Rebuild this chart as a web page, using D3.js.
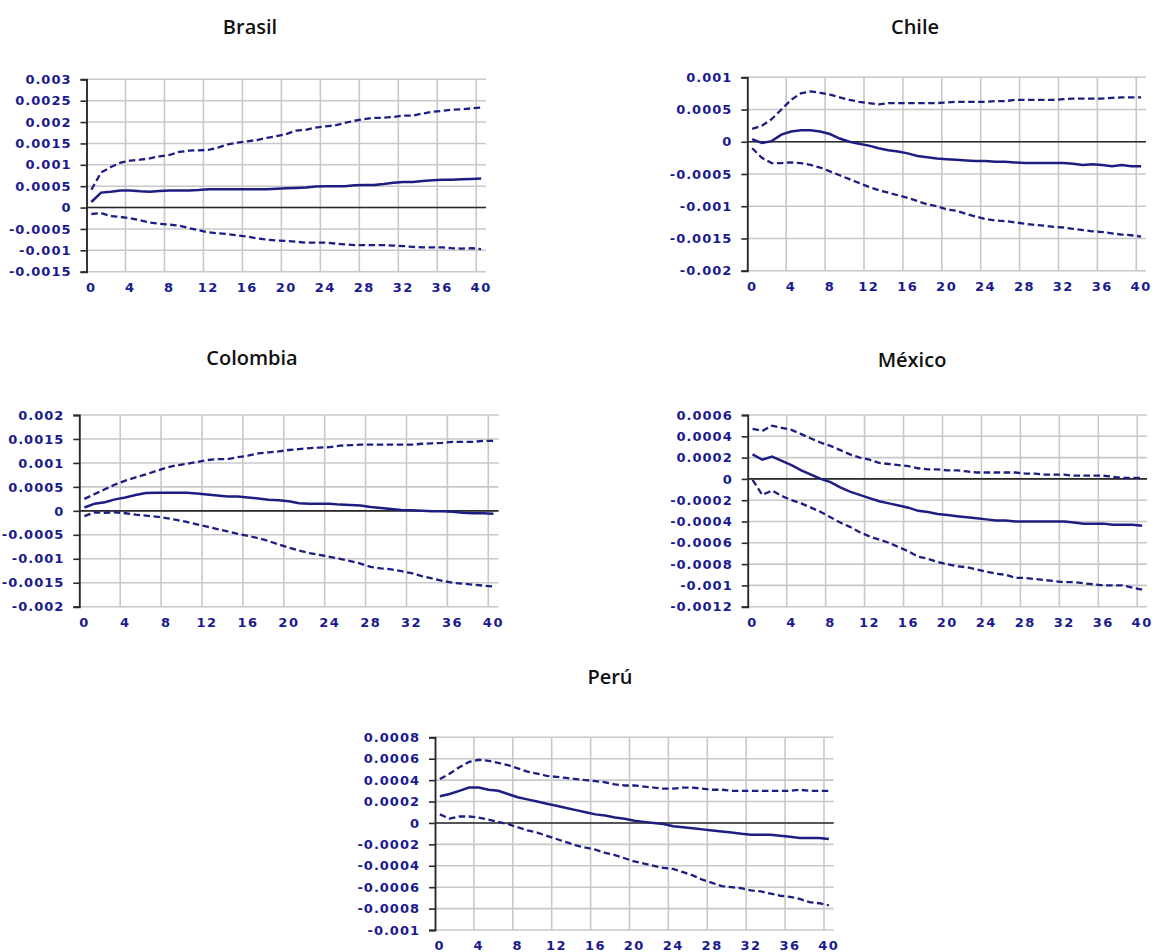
<!DOCTYPE html>
<html>
<head>
<meta charset="utf-8">
<script src="https://cdn.jsdelivr.net/npm/d3@7"></script>
<style>
  body { margin: 0; background: #fff; }
  svg { display: block; }
</style>
</head>
<body>
<div id="chart"></div>
<script>
var periods = d3.range(0, 41)
var xTickLabels = ["0","4","8","12","16","20","24","28","32","36","40"]

// Brasil
var brasilMid = [0.00013,0.00035,0.00037,0.0004,0.0004,0.00038,0.00037,0.00039,0.0004,0.0004,0.0004,0.00041,0.00043,0.00043,0.00043,0.00043,0.00043,0.00043,0.00043,0.00044,0.00045,0.00046,0.00047,0.00049,0.0005,0.0005,0.0005,0.00052,0.00053,0.00053,0.00055,0.00058,0.0006,0.0006,0.00062,0.00064,0.00065,0.00065,0.00066,0.00067,0.00068]
var brasilUp = [0.00042,0.00082,0.00095,0.00105,0.0011,0.00112,0.00115,0.0012,0.00123,0.0013,0.00133,0.00134,0.00135,0.0014,0.00148,0.00152,0.00155,0.00158,0.00163,0.00167,0.00172,0.0018,0.00182,0.00187,0.0019,0.00192,0.00198,0.00203,0.00207,0.0021,0.0021,0.00212,0.00215,0.00215,0.0022,0.00224,0.00226,0.00229,0.0023,0.00232,0.00234]
var brasilLow = [-0.00015,-0.00013,-0.0002,-0.00022,-0.00025,-0.0003,-0.00035,-0.00038,-0.0004,-0.00042,-0.00048,-0.00053,-0.00058,-0.0006,-0.00062,-0.00065,-0.00068,-0.00072,-0.00075,-0.00077,-0.00078,-0.0008,-0.00082,-0.00082,-0.00082,-0.00084,-0.00086,-0.00088,-0.00088,-0.00088,-0.00088,-0.00089,-0.0009,-0.00092,-0.00093,-0.00093,-0.00093,-0.00095,-0.00096,-0.00095,-0.00097]

// Chile
var chileMid = [0.00004,-0.00002,0.00001,0.00011,0.00016,0.00018,0.00018,0.00016,0.00012,0.00005,0.0,-0.00003,-0.00006,-0.0001,-0.00013,-0.00015,-0.00018,-0.00022,-0.00024,-0.00026,-0.00027,-0.00028,-0.00029,-0.0003,-0.0003,-0.00031,-0.00031,-0.00032,-0.00033,-0.00033,-0.00033,-0.00033,-0.00033,-0.00034,-0.00036,-0.00035,-0.00036,-0.00038,-0.00036,-0.00038,-0.00038]
var chileUp = [0.0002,0.00025,0.00035,0.0005,0.00065,0.00075,0.00078,0.00076,0.00073,0.00069,0.00065,0.00062,0.0006,0.00058,0.0006,0.0006,0.0006,0.0006,0.0006,0.0006,0.00061,0.00062,0.00062,0.00062,0.00062,0.00063,0.00063,0.00065,0.00065,0.00065,0.00065,0.00065,0.00066,0.00067,0.00067,0.00067,0.00067,0.00068,0.00069,0.00069,0.00069]
var chileLow = [-0.0001,-0.00025,-0.00033,-0.00033,-0.00032,-0.00033,-0.00036,-0.0004,-0.00046,-0.00052,-0.00058,-0.00064,-0.0007,-0.00075,-0.00079,-0.00083,-0.00087,-0.00092,-0.00097,-0.001,-0.00105,-0.00107,-0.00112,-0.00116,-0.0012,-0.00122,-0.00123,-0.00125,-0.00127,-0.00129,-0.0013,-0.00132,-0.00133,-0.00135,-0.00137,-0.00139,-0.0014,-0.00142,-0.00144,-0.00145,-0.00147]

// Colombia
var colombiaMid = [0.00007,0.00015,0.00018,0.00024,0.00028,0.00033,0.00037,0.00038,0.00038,0.00038,0.00038,0.00036,0.00034,0.00032,0.0003,0.0003,0.00028,0.00026,0.00023,0.00022,0.0002,0.00016,0.00015,0.00015,0.00015,0.00013,0.00012,0.00011,0.00008,0.00006,0.00004,0.00002,0.00001,0.0,-0.00001,-0.00001,-0.00002,-0.00004,-0.00005,-0.00005,-0.00006]
var colombiaUp = [0.00025,0.00035,0.00045,0.00055,0.00063,0.0007,0.00076,0.00083,0.0009,0.00095,0.00098,0.00102,0.00106,0.00108,0.00108,0.00112,0.00115,0.0012,0.00122,0.00124,0.00127,0.00129,0.00131,0.00132,0.00133,0.00136,0.00137,0.00138,0.00138,0.00138,0.00138,0.00138,0.00138,0.0014,0.00141,0.00142,0.00144,0.00144,0.00144,0.00146,0.00146]
var colombiaLow = [-0.00011,-0.00003,-0.00004,-0.00003,-0.00005,-0.00008,-0.0001,-0.00012,-0.00015,-0.00019,-0.00023,-0.00028,-0.00033,-0.00038,-0.00043,-0.00048,-0.00052,-0.00057,-0.00063,-0.0007,-0.00077,-0.00083,-0.00088,-0.00092,-0.00096,-0.001,-0.00105,-0.0011,-0.00117,-0.0012,-0.00122,-0.00126,-0.0013,-0.00136,-0.00141,-0.00146,-0.0015,-0.00152,-0.00154,-0.00156,-0.00158]

// México
var mexicoMid = [0.00023,0.00018,0.00021,0.00017,0.00013,0.00008,0.00004,0.0,-0.00003,-0.00008,-0.00012,-0.00015,-0.00018,-0.00021,-0.00023,-0.00025,-0.00027,-0.0003,-0.00031,-0.00033,-0.00034,-0.00035,-0.00036,-0.00037,-0.00038,-0.00039,-0.00039,-0.0004,-0.0004,-0.0004,-0.0004,-0.0004,-0.0004,-0.00041,-0.00042,-0.00042,-0.00042,-0.00043,-0.00043,-0.00043,-0.00044]
var mexicoUp = [0.00047,0.00045,0.0005,0.00048,0.00046,0.00042,0.00038,0.00034,0.00031,0.00027,0.00023,0.0002,0.00018,0.00015,0.00014,0.00013,0.00012,0.0001,0.00009,0.00009,0.00008,0.00008,0.00007,0.00006,0.00006,0.00006,0.00006,0.00006,0.00005,0.00005,0.00004,0.00004,0.00004,0.00003,0.00003,0.00003,0.00003,0.00002,0.00001,0.00001,0.00001]
var mexicoLow = [-0.00001,-0.00015,-0.00011,-0.00016,-0.0002,-0.00023,-0.00027,-0.00031,-0.00036,-0.00041,-0.00045,-0.0005,-0.00054,-0.00057,-0.0006,-0.00064,-0.00068,-0.00073,-0.00075,-0.00078,-0.0008,-0.00082,-0.00083,-0.00085,-0.00087,-0.00089,-0.0009,-0.00093,-0.00093,-0.00094,-0.00095,-0.00096,-0.00097,-0.00097,-0.00098,-0.00099,-0.001,-0.001,-0.001,-0.00102,-0.00104]

// Perú
var peruMid = [0.00025,0.00027,0.0003,0.00033,0.00033,0.00031,0.0003,0.00027,0.00024,0.00022,0.0002,0.00018,0.00016,0.00014,0.00012,0.0001,0.00008,0.00007,0.00005,0.00004,0.00002,0.00001,0.0,-0.00001,-0.00003,-0.00004,-0.00005,-0.00006,-0.00007,-0.00008,-0.00009,-0.0001,-0.00011,-0.00011,-0.00011,-0.00012,-0.00013,-0.00014,-0.00014,-0.00014,-0.00015]
var peruUp = [0.00041,0.00046,0.00052,0.00057,0.00059,0.00058,0.00056,0.00054,0.00051,0.00048,0.00046,0.00044,0.00043,0.00042,0.00041,0.0004,0.00039,0.00038,0.00036,0.00035,0.00035,0.00034,0.00033,0.00032,0.00032,0.00033,0.00033,0.00032,0.00031,0.00031,0.0003,0.0003,0.0003,0.0003,0.0003,0.0003,0.0003,0.00031,0.0003,0.0003,0.0003]
var peruLow = [0.00008,0.00004,0.00006,0.00006,0.00005,0.00003,0.00001,-0.00001,-0.00004,-0.00007,-0.00009,-0.00012,-0.00015,-0.00018,-0.00021,-0.00023,-0.00025,-0.00028,-0.0003,-0.00033,-0.00036,-0.00038,-0.0004,-0.00042,-0.00043,-0.00046,-0.00049,-0.00053,-0.00056,-0.00059,-0.0006,-0.00061,-0.00063,-0.00064,-0.00066,-0.00068,-0.00069,-0.00071,-0.00074,-0.00075,-0.00077]

var brasilTicks = [-0.0015,-0.001,-0.0005,0,0.0005,0.001,0.0015,0.002,0.0025,0.003]
var chileTicks = [-0.002,-0.0015,-0.001,-0.0005,0,0.0005,0.001]
var colombiaTicks = [-0.002,-0.0015,-0.001,-0.0005,0,0.0005,0.001,0.0015,0.002]
var mexicoTicks = [-0.0012,-0.001,-0.0008,-0.0006,-0.0004,-0.0002,0,0.0002,0.0004,0.0006]
var peruTicks = [-0.001,-0.0008,-0.0006,-0.0004,-0.0002,0,0.0002,0.0004,0.0006,0.0008]

var panels = [
	{title:"Brasil", mid:brasilMid, up:brasilUp, low:brasilLow, ticks:brasilTicks, left:86.5, right:486, top:79.3, bottom:271.7, tx:250, ty:34},
	{title:"Chile", mid:chileMid, up:chileUp, low:chileLow, ticks:chileTicks, left:747.3, right:1146, top:77.3, bottom:270.7, tx:915, ty:34},
	{title:"Colombia", mid:colombiaMid, up:colombiaUp, low:colombiaLow, ticks:colombiaTicks, left:79.3, right:498.5, top:415, bottom:606.7, tx:252, ty:365},
	{title:"México", mid:mexicoMid, up:mexicoUp, low:mexicoLow, ticks:mexicoTicks, left:747.7, right:1147, top:415, bottom:606.7, tx:912, ty:367},
	{title:"Perú", mid:peruMid, up:peruUp, low:peruLow, ticks:peruTicks, left:435, right:833.7, top:737.3, bottom:930, tx:610, ty:684}
]

var width = 1152
var height = 952
var lineColor = "#1e1e82"
var textColor = "#1a1a90"

var svg = d3.select("#chart").append("svg").attr("width",width).attr("height",height)
svg.append("rect").attr("width",width).attr("height",height).attr("fill","#fff")

panels.forEach(function(p){
	drawPanel(p)
})

function fmt(v){
	return String(+v.toFixed(4))
}

function drawPanel(p){
	var g = svg.append("g")
	var x = d3.scaleBand().domain(periods).range([p.left,p.right]).padding(0)
	var y = d3.scaleLinear().domain(d3.extent(p.ticks)).range([p.bottom,p.top])

	// horizontal grid
	g.selectAll(".hgrid").data(p.ticks).enter().append("line")
		.attr("x1",p.left).attr("x2",p.right)
		.attr("y1",function(d){return y(d)}).attr("y2",function(d){return y(d)})
		.attr("stroke","#c8c8c8").attr("stroke-width",1.6)

	// vertical grid at band boundaries every 4 periods
	var vg = periods.filter(function(d){return d>0 && d%4==0})
	g.selectAll(".vgrid").data(vg).enter().append("line")
		.attr("x1",function(d){return x(d)}).attr("x2",function(d){return x(d)})
		.attr("y1",p.top).attr("y2",p.bottom)
		.attr("stroke","#c8c8c8").attr("stroke-width",1.6)

	// zero line
	g.append("line")
		.attr("x1",p.left).attr("x2",p.right)
		.attr("y1",y(0)).attr("y2",y(0))
		.attr("stroke","#2a2a2a").attr("stroke-width",1.6)

	// y axis
	var yAxis = d3.axisLeft(y).tickValues(p.ticks).tickSize(6).tickPadding(9).tickFormat(fmt)
	var ya = g.append("g").attr("transform","translate("+p.left+",0)").call(yAxis)
	ya.select(".domain").attr("stroke","#2a2a2a").attr("stroke-width",1.9)
	ya.selectAll(".tick line").attr("stroke","#2a2a2a").attr("stroke-width",1.6)
	ya.selectAll(".tick text")
		.attr("fill",textColor)
		.style("font-family","'DejaVu Sans', Verdana, sans-serif")
		.style("font-weight","bold")
		.style("font-size","13px")
		.style("letter-spacing","1px")

	// x labels at band centres, placed below the plot
	var xa = d3.axisBottom(x).tickValues(xTickLabels.map(Number)).tickSize(0).tickPadding(11)
	var xg = g.append("g").attr("transform","translate(0,"+p.bottom+")").call(xa)
	xg.select(".domain").remove()
	xg.selectAll(".tick text")
		.attr("fill",textColor)
		.style("font-family","'DejaVu Sans', Verdana, sans-serif")
		.style("font-weight","bold")
		.style("font-size","13px")
		.style("letter-spacing","1.5px")

	var line = d3.line()
		.x(function(d,i){return x(i)+x.bandwidth()/2})
		.y(function(d){return y(d)})

	g.append("path").attr("d",line(p.up)).attr("fill","none")
		.attr("stroke",lineColor).attr("stroke-width",2.3).attr("stroke-dasharray","6.5,3.5")
	g.append("path").attr("d",line(p.low)).attr("fill","none")
		.attr("stroke",lineColor).attr("stroke-width",2.3).attr("stroke-dasharray","6.5,3.5")
	g.append("path").attr("d",line(p.mid)).attr("fill","none")
		.attr("stroke",lineColor).attr("stroke-width",2.5)

	svg.append("text").text(p.title)
		.attr("x",p.tx).attr("y",p.ty)
		.attr("text-anchor","middle")
		.attr("fill","#111")
		.style("font-family","'Open Sans', 'Noto Sans', sans-serif")
		.style("font-weight",600)
		.style("font-size","20px")
}
</script>
</body>
</html>
